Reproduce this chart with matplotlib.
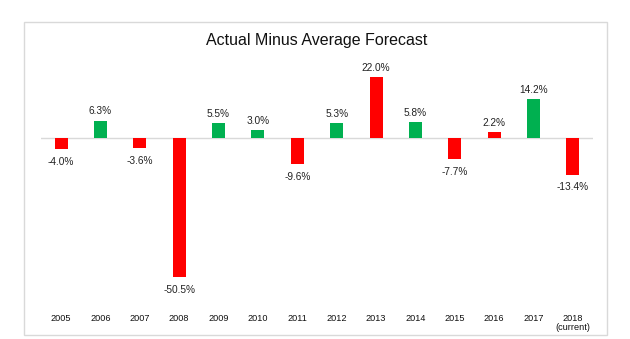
import matplotlib.pyplot as plt
from matplotlib.patches import Rectangle

# data
years = ["2005", "2006", "2007", "2008", "2009", "2010", "2011",
         "2012", "2013", "2014", "2015", "2016", "2017", "2018\n(current)"]
diff = [-4.0, 6.3, -3.6, -50.5, 5.5, 3.0, -9.6, 5.3, 22.0, 5.8, -7.7, 2.2, 14.2, -13.4]
bar_colors = ["#FF0000", "#00B050", "#FF0000", "#FF0000", "#00B050", "#00B050", "#FF0000",
              "#00B050", "#FF0000", "#00B050", "#FF0000", "#FF0000", "#00B050", "#FF0000"]

plt.rcParams['font.family'] = ['Liberation Sans', 'DejaVu Sans']

fig = plt.figure(figsize=(6.3, 3.39), dpi=100)
ax = fig.add_axes([0.0656, 0.0914, 0.875, 0.745])

x = range(len(years))
bars = ax.bar(x, diff, width=0.33, color=bar_colors, zorder=2)

for xi, v in zip(x, diff):
    if v >= 0:
        ax.annotate("%.1f%%" % v, (xi, v), xytext=(0, 3), textcoords="offset points",
                    ha="center", va="bottom", fontsize=7.3, color="#222222")
    else:
        ax.annotate("%.1f%%" % v, (xi, v), xytext=(0, -5.5), textcoords="offset points",
                    ha="center", va="top", fontsize=7.3, color="#222222")

ax.axhline(0, color="#d9d9d9", lw=1, zorder=1)
ax.set_xlim(-0.5, len(years) - 0.5)
ax.set_ylim(-61.8, 30)
ax.set_yticks([])
ax.set_xticks(list(x))
ax.set_xticklabels(years, fontsize=6.6, color="#111111", linespacing=1.0)
ax.tick_params(axis="x", length=0, pad=4)
for s in ax.spines.values():
    s.set_visible(False)

fig.text(317 / 630, 1 - 40 / 339, "Actual Minus Average Forecast",
         ha="center", va="center", fontsize=11.5, color="#111111")

# outer chart border
fig.patches.append(Rectangle((24 / 630, 1 - 335 / 339), (607 - 24) / 630, (335 - 22) / 339,
                             transform=fig.transFigure, fill=False,
                             edgecolor="#d9d9d9", lw=1))

fig.savefig("out.png", dpi=100)
